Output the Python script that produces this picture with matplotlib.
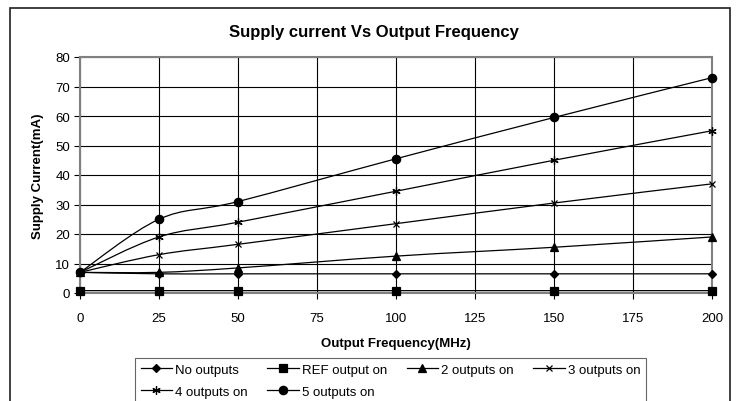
import numpy as np
import matplotlib
matplotlib.use("Agg")
import matplotlib.pyplot as plt
from matplotlib.path import Path
from matplotlib.patches import PathPatch, Rectangle
from matplotlib.lines import Line2D

plt.rcParams["font.family"] = ["Liberation Sans", "DejaVu Sans"]

# data
freq = [0, 25, 50, 100, 150, 200]
no_outputs = [7.0, 6.5, 6.5, 6.5, 6.5, 6.5]
ref_on = [0.8, 0.8, 0.8, 0.8, 0.8, 0.8]
two_on = [7.0, 7.0, 8.5, 12.5, 15.5, 19.0]
three_on = [7.0, 13.0, 16.5, 23.5, 30.5, 37.0]
four_on = [7.0, 19.0, 24.0, 34.5, 45.0, 55.0]
five_on = [7.0, 25.0, 31.0, 45.5, 59.5, 73.0]

series = [
    ("No outputs", no_outputs, "D", 3.8),
    ("REF output on", ref_on, "s", 5.5),
    ("2 outputs on", two_on, "^", 5.5),
    ("3 outputs on", three_on, "x", 5),
    ("4 outputs on", four_on, (6, 2, 0), 6),
    ("5 outputs on", five_on, "o", 6),
]


def smooth_path(x, y):
    # excel-style smoothed line: cubic bezier through the points
    p = np.column_stack([x, y]).astype(float)
    pts = np.vstack([p[0], p, p[-1]])
    verts = [p[0]]
    codes = [Path.MOVETO]
    for i in range(1, len(pts) - 2):
        c1 = pts[i] + (pts[i + 1] - pts[i - 1]) / 6
        c2 = pts[i + 1] - (pts[i + 2] - pts[i]) / 6
        verts += [c1, c2, pts[i + 1]]
        codes += [Path.CURVE4] * 3
    return Path(verts, codes)


fig = plt.figure(figsize=(7.4, 4.02), dpi=100)
ax = fig.add_axes([80 / 740, 1 - 294 / 402, 632 / 740, 236 / 402])

handles = []
for name, vals, mk, ms in series:
    ax.add_patch(PathPatch(smooth_path(freq, vals), fill=False,
                           edgecolor="black", lw=0.9, zorder=3))
    ax.plot(freq, vals, ls="none", marker=mk, ms=ms, color="black",
            mew=0.9, zorder=4, clip_on=False)
    handles.append(Line2D([], [], color="black", lw=0.9, marker=mk,
                          ms=ms, mew=0.9))

ax.set_xlim(0, 200)
ax.set_ylim(0, 80)
ax.set_xticks(np.arange(0, 201, 25))
ax.set_yticks(np.arange(0, 81, 10))
ax.grid(True, color="black", lw=0.8)
ax.set_axisbelow(True)
for s in ax.spines.values():
    s.set_color("#808080")
    s.set_linewidth(1.5)
ax.tick_params(labelsize=9.5, length=4, width=0.8, color="black")
ax.tick_params(axis="x", pad=10)
ax.tick_params(axis="y", pad=3)

ax.set_xlabel("Output Frequency(MHz)", fontsize=9.5, fontweight="bold",
              labelpad=9)
ax.set_ylabel("Supply Current(mA)", fontsize=9.5, fontweight="bold",
              labelpad=8)
fig.text(0.505, 1 - 33 / 402, "Supply current Vs Output Frequency",
         ha="center", va="center", fontsize=12, fontweight="bold")

# legend reads row by row: No, REF, 2, 3 / 4, 5
order = [0, 4, 1, 5, 2, 3]
leg = fig.legend([handles[i] for i in order], [series[i][0] for i in order],
                 ncol=4, loc="upper left",
                 bbox_to_anchor=(128 / 740, 1 - 352 / 402),
                 fontsize=9.5, frameon=True, fancybox=False,
                 edgecolor="#404040", handlelength=2.4, handletextpad=0.2,
                 columnspacing=1.5, borderpad=0.45, labelspacing=0.75)
leg.get_frame().set_linewidth(0.8)

fig.patches.append(Rectangle((10 / 740, -0.1), 720 / 740, 1.1 - 9 / 402,
                             transform=fig.transFigure, fill=False,
                             edgecolor="#202020", lw=1.2))

fig.savefig("out.png", dpi=100)
